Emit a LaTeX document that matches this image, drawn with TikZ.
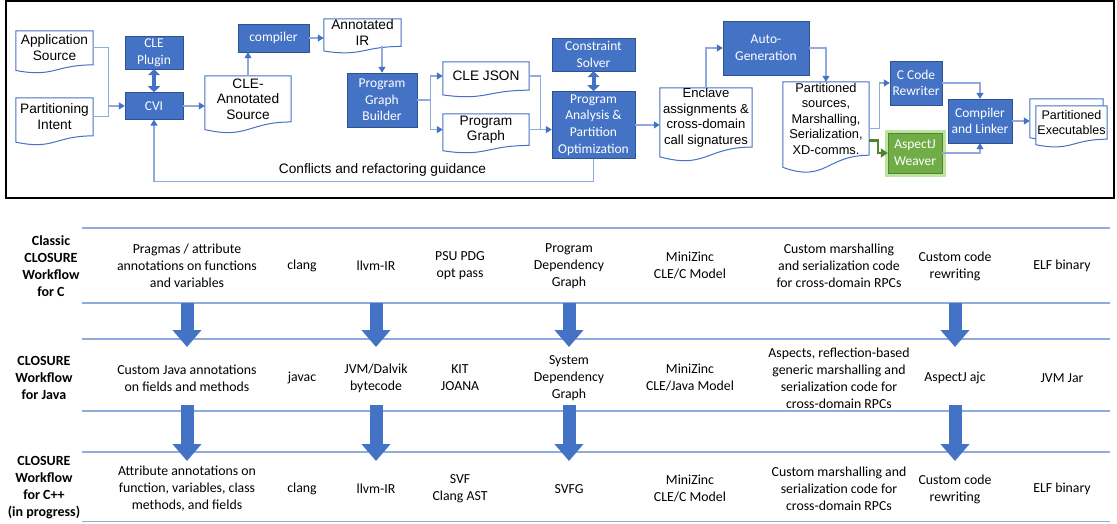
\documentclass[tikz,border=0pt]{standalone}
\usepackage{fontspec}
\setmainfont{Carlito}
\newfontfamily\arialfont{Liberation Sans}
\usetikzlibrary{positioning, calc, arrows.meta, backgrounds}

\definecolor{boxblue}{RGB}{68,114,196}
\definecolor{boxedge}{RGB}{47,82,143}
\definecolor{linkblue}{RGB}{143,170,220}
\definecolor{weaver}{RGB}{112,173,71}
\definecolor{weaveredge}{RGB}{84,130,53}
\definecolor{glow}{RGB}{190,228,160}

% document outline with wavy bottom, drawn around a named node
\newcommand{\docoutline}[1]{%
  \filldraw[docline] (#1.north west) -- (#1.north east) -- (#1.south east)
    .. controls (#1.south) and ($(#1.south)!-0.38!(#1.north)$) .. ($(#1.south west)!-0.165!(#1.north west)$) -- cycle;}

\begin{document}
\begin{tikzpicture}[x=1pt, y=-1pt,
    box/.style = {draw=boxedge, fill=boxblue, text=white, align=center, inner sep=0pt, font=\fontsize{13.5}{16.7}\selectfont},
    weaverbox/.style = {box, fill=weaver, draw=weaveredge, preaction={draw=glow, line width=7pt}},
    doc/.style = {align=center, inner sep=0pt, font=\arialfont\fontsize{#1}{15.5}\selectfont},
    doc/.default = 13.7,
    docline/.style = {draw=boxblue, line width=1pt, fill=white},
    link/.style = {draw=linkblue, line width=1.3pt},
    flow/.style = {link, -{Triangle[length=6pt, width=7pt, color=boxblue]}},
    dbl/.style = {draw=boxblue, line width=4pt, {Triangle[length=6pt, width=12pt]}-{Triangle[length=6pt, width=12pt]}},
    greenflow/.style = {draw=weaveredge, line width=2.5pt, -{Triangle[length=7pt, width=9pt]}},
    rowline/.style = {draw=linkblue, line width=1.3pt},
    rowlabel/.style = {align=center, font=\bfseries\fontsize{14}{17}\selectfont},
    cell/.style = {align=center, font=\fontsize{13.8}{17}\selectfont},
    bigarrow/.style = {draw=boxblue, line width=13pt, -{Triangle[length=17pt, width=28pt]}}
  ]
  \useasboundingbox (0,0) rectangle (1117,523);

  % workflow
  \draw[line width=2pt] (6,1) rectangle (1114,198);

  \node[doc, minimum width=77pt, minimum height=33.7pt] (appsrc) at (54.5,47.8) {Application\\Source};
  \node[doc, minimum width=77pt, minimum height=37.7pt] (intent) at (54.5,116.8) {Partitioning\\Intent};
  \node[box, minimum width=58pt, minimum height=33pt] (plugin) at (154,52.5) {CLE\\Plugin};
  \node[box, minimum width=58pt, minimum height=27pt, below=23pt of plugin] (cvi) {CVI};
  \node[doc, minimum width=86pt, minimum height=45.7pt] (cleann) at (248,98.9) {CLE-\\Annotated\\Source};
  \node[box, minimum width=71pt, minimum height=28pt] (compiler) at (273.5,38) {compiler};
  \node[doc, minimum width=77pt, minimum height=27.3pt] (annir) at (362.5,32.6) {Annotated\\IR};
  \node[box, minimum width=70pt, minimum height=54pt] (pgb) at (382,100) {Program\\Graph\\Builder};
  \node[doc, minimum width=86pt, minimum height=28pt] (clejson) at (486,76) {CLE JSON};
  \node[doc, minimum width=86pt, minimum height=31.3pt] (pgraph) at (486,129.6) {Program\\Graph};
  \node[box, minimum width=83pt, minimum height=33pt] (solver) at (593.5,54.5) {Constraint\\Solver};
  \node[box, minimum width=83pt, minimum height=67pt, below=20pt of solver] (pa) {Program\\Analysis \&\\Partition\\Optimization};
  \node[doc=13.1, minimum width=92pt, minimum height=57pt] (enclave) at (706,117.5) {Enclave\\assignments \&\\cross-domain\\call signatures};
  \node[box, minimum width=86pt, minimum height=54pt] (autogen) at (766,48) {Auto-\\Generation};
  \node[doc=12.8, minimum width=86pt, minimum height=73pt] (partsrc) at (826,118.5) {Partitioned\\sources,\\Marshalling,\\Serialization,\\XD-comms.};
  \node[box, minimum width=52pt, minimum height=44pt] (ccr) at (916,83) {C Code\\Rewriter};
  \node[weaverbox, minimum width=54pt, minimum height=40pt] (aj) at (915,153) {AspectJ\\Weaver};
  \node[box, minimum width=64pt, minimum height=44pt] (cl) at (980,121) {Compiler\\and Linker};
  \node[doc, minimum width=73pt, minimum height=33pt] (exeback) at (1066.5,115.5) {};
  \node[doc=12.5, minimum width=71pt, minimum height=33pt] (exefront) at (1071.5,122.5) {Partitioned\\Executables};

  \begin{scope}[on background layer]
    \foreach \d in {appsrc, intent, cleann, annir, clejson, pgraph, enclave, partsrc, exeback, exefront}
      \docoutline{\d};
  \end{scope}

  \draw[flow] (appsrc.east) -| ([xshift=-16pt]cvi.west) -- (cvi.west);
  \draw[link] (intent.east) -| ([xshift=-16pt]cvi.west);
  \draw[dbl] (plugin) -- (cvi);
  \draw[flow] (cvi.east) -- (cvi.east -| cleann.west);
  \draw[flow] (cleann.north) -- (cleann.north |- compiler.south);
  \draw[flow] (compiler.east) -- (compiler.east -| annir.west);
  \draw[flow] (pgb.north |- annir.south) -- (pgb.north);
  \draw[flow] (pgb.east) -- ++(13,0) |- (clejson.west);
  \draw[flow] (pgb.east) -- ++(13,0) |- (pgraph.west);
  \draw[link] (clejson.east) -| ($(pgraph.east)!0.5!(pgraph.east -| pa.west)$);
  \draw[flow] (pgraph.east) -- (pgraph.east -| pa.west);
  \draw[dbl] (solver) -- (pa);
  \draw[flow] (pa.east) -- (pa.east -| enclave.west);
  \draw[flow] (enclave.north) |- (autogen.west);
  \draw[flow] (autogen.east) -| (partsrc.north);
  \draw[flow] ([yshift=-10pt]partsrc.east) -| ([xshift=-10pt]ccr.west) -- (ccr.west);
  \draw[greenflow] ([yshift=-22pt]partsrc.east) -| ([xshift=-10pt]aj.west) -- (aj.west);
  \draw[flow] (ccr.east) -| (cl.north);
  \draw[flow] (aj.east) -| (cl.south);
  \draw[flow] (cl.east) -- (cl.east -| exeback.west);
  \draw[flow] (pa.south) -- ++(0,23) -| node[pos=0.24, above=1pt, font=\arialfont\fontsize{13.7}{15.5}\selectfont] {Conflicts and refactoring guidance} (cvi.south);

  % comparison table
  \foreach \y [count=\i] in {228,303,339,411,452,521.5} {
    \coordinate (hl\i) at (0,\y);
    \draw[rowline] (82,\y) -- (1110,\y);
  }

  \node[rowlabel] (labc) at (51,266) {Classic\\CLOSURE\\Workflow\\for C};
  \node[cell] (pragmas) at (187,266) {Pragmas / attribute\\annotations on functions\\and variables};
  \node[cell] (clangc) at (302,266) {clang};
  \node[cell] (llvmc) at (376,266) {llvm-IR};
  \node[cell] (pdgpass) at (460,266) {PSU PDG\\opt pass};
  \node[cell] (pdg) at (569,266) {Program\\Dependency\\Graph};
  \node[cell] (mzc) at (690,266) {MiniZinc\\CLE/C Model};
  \node[cell] (marshc) at (839,266) {Custom marshalling\\and serialization code\\for cross-domain RPCs};
  \node[cell] (rewc) at (955,266) {Custom code\\rewriting};
  \node[cell] (elfc) at (1062,266) {ELF binary};

  \node[rowlabel] (labjava) at (44,378) {CLOSURE\\Workflow\\for Java};
  \node[cell] (javaann) at (187,378) {Custom Java annotations\\on fields and methods};
  \node[cell] (javac) at (302,378) {javac};
  \node[cell] (jvm) at (376,378) {JVM/Dalvik\\bytecode};
  \node[cell] (joana) at (460,378) {KIT\\JOANA};
  \node[cell] (sdg) at (569,378) {System\\Dependency\\Graph};
  \node[cell] (mzjava) at (690,378) {MiniZinc\\CLE/Java Model};
  \node[cell] (aspects) at (839,378) {Aspects, reflection-based\\generic marshalling and\\serialization code for\\cross-domain RPCs};
  \node[cell] (ajc) at (955,378) {AspectJ ajc};
  \node[cell] (jar) at (1062,378) {JVM Jar};

  \node[rowlabel] (labcpp) at (44,488) {CLOSURE\\Workflow\\for C++\\(in progress)};
  \node[cell] (attrann) at (187,489) {Attribute annotations on\\function, variables, class\\methods, and fields};
  \node[cell] (clangcpp) at (302,489) {clang};
  \node[cell] (llvmcpp) at (376,489) {llvm-IR};
  \node[cell] (svf) at (460,489) {SVF\\Clang AST};
  \node[cell] (svfg) at (569,489) {SVFG};
  \node[cell] (mzcpp) at (690,489) {MiniZinc\\CLE/C Model};
  \node[cell] (marshcpp) at (839,489) {Custom marshalling and\\serialization code for\\cross-domain RPCs};
  \node[cell] (rewcpp) at (955,489) {Custom code\\rewriting};
  \node[cell] (elfcpp) at (1062,489) {ELF binary};

  \foreach \a/\b/\c in {pragmas/javaann/attrann, llvmc/jvm/llvmcpp, pdg/sdg/svfg, rewc/ajc/rewcpp} {
    \draw[bigarrow] (\a |- hl2) -- ([yshift=-8pt]\b |- hl3);
    \draw[bigarrow] ([yshift=6pt]\b |- hl4) -- ([yshift=-9pt]\c |- hl5);
  }
\end{tikzpicture}
\end{document}
